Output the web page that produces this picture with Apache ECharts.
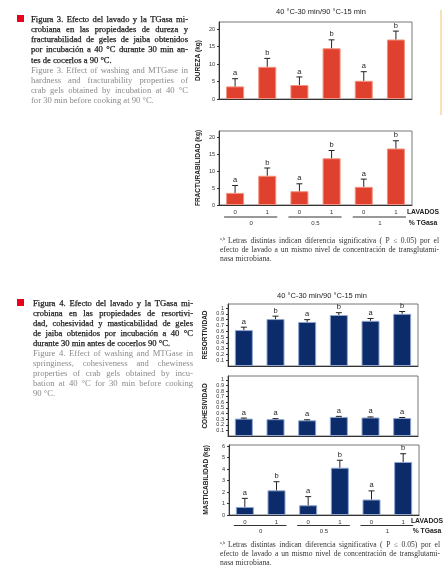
<!DOCTYPE html>
<html><head><meta charset="utf-8">
<script src="https://cdn.jsdelivr.net/npm/echarts@6/dist/echarts.min.js"></script>
<style>html,body{margin:0;padding:0;background:#fff}#c{width:443px;height:578px}</style>
</head><body><div id="c"></div>
<script>
// ---------- DATA ----------
const categories = ['L0-T0','L1-T0','L0-T0.5','L1-T0.5','L0-T1','L1-T1'];
const lavados = ['0','1','0','1','0','1'];
const tgasa = ['0','0.5','1'];
const chartTitle = '40 °C-30 min/90 °C-15 min';

const durezaMean = [3.6, 9.2, 4.0, 14.5, 5.2, 17.0];
const durezaErr = [2.2, 2.4, 2.3, 2.4, 2.6, 2.4];
const durezaLetters = ['a','b','a','b','a','b'];

const fractMean = [3.6, 8.7, 4.1, 13.9, 5.4, 16.8];
const fractErr = [2.2, 2.3, 2.2, 2.3, 2.3, 2.3];
const fractLetters = ['a','b','a','b','a','b'];

const resortMean = [0.62, 0.81, 0.76, 0.88, 0.78, 0.90];
const resortErr = [0.05, 0.05, 0.04, 0.04, 0.04, 0.04];
const resortLetters = ['a','b','a','b','a','b'];

const cohesMean = [0.31, 0.30, 0.28, 0.34, 0.33, 0.32];
const cohesErr = [0.01, 0.01, 0.01, 0.01, 0.01, 0.01];
const cohesLetters = ['a','a','a','a','a','a'];

const mastMean = [0.70, 2.15, 0.85, 4.12, 1.35, 4.62];
const mastErr = [0.75, 0.75, 0.75, 0.65, 0.75, 0.72];
const mastLetters = ['a','b','a','b','a','b'];

const fig3Es = ['Figura 3. Efecto del lavado y la TGasa mi-','crobiana en las propiedades de dureza y','fracturabilidad de geles de jaiba obtenidos','por incubación a 40 °C durante 30 min an-','tes de cocerlos a 90 °C.'];
const fig3En = ['Figure 3. Effect of washing and MTGase in','hardness and fracturability properties of','crab gels obtained by incubation at 40 °C','for 30 min before cooking at 90 °C.'];
const fig4Es = ['Figura 4. Efecto del lavado y la TGasa mi-','crobiana en las propiedades de resortivi-','dad, cohesividad y masticabilidad de geles','de jaiba obtenidos por incubación a 40 °C','durante 30 min antes de cocerlos 90 °C.'];
const fig4En = ['Figure 4. Effect of washing and MTGase in','springiness, cohesiveness and chewiness','properties of crab gels obtained by incu-','bation at 40 °C for 30 min before cooking','90 °C.'];
const footnote = ['Letras distintas indican diferencia significativa ( P ≤ 0.05) por el','efecto de lavado a un mismo nivel de concentración de transglutami-','nasa microbiana.'];

// ---------- CHART ----------
const chart = echarts.init(document.getElementById('c'), null, {renderer:'canvas'});
const SANS = '"Liberation Sans", Arial, sans-serif';
const SERIF = '"Liberation Serif", "DejaVu Serif", serif';

const panels = [
  {mean:durezaMean, err:durezaErr, letters:durezaLetters, name:'DUREZA (kg)', max:22, interval:5, grid:{left:219,top:22,width:193,height:77}, color:'#e0412f', border:'#f3917f', showX:false, gap:17},
  {mean:fractMean, err:fractErr, letters:fractLetters, name:'FRACTURABILIDAD (kg)', max:22, interval:5, grid:{left:219,top:131,width:193,height:74}, color:'#e0412f', border:'#f3917f', showX:true, gap:17},
  {mean:resortMean, err:resortErr, letters:resortLetters, name:'RESORTIVIDAD', max:1.07, interval:0.1, grid:{left:228,top:304,width:190,height:62}, color:'#0b2b6b', border:'#8ea5cf', showX:false, gap:19},
  {mean:cohesMean, err:cohesErr, letters:cohesLetters, name:'COHESIVIDAD', max:1.07, interval:0.1, grid:{left:228,top:376,width:190,height:60}, color:'#0b2b6b', border:'#8ea5cf', showX:false, gap:19},
  {mean:mastMean, err:mastErr, letters:mastLetters, name:'MASTICABILIDAD (kg)', max:6.1, interval:1, grid:{left:229,top:445,width:190,height:70}, color:'#0b2b6b', border:'#8ea5cf', showX:true, gap:19}
];

const option = {
  backgroundColor:'#fff',
  animation:false,
  grid: panels.map(p => Object.assign({show:true, borderColor:'#777', borderWidth:1, backgroundColor:'transparent'}, p.grid)),
  xAxis: panels.map((p,i) => ({
    type:'category', gridIndex:i, data:categories,
    axisLine:{show:true, lineStyle:{color:'#333', width:1}},
    axisTick:{show:false},
    axisLabel:{show:p.showX, formatter:(v,idx)=>lavados[idx], fontSize:6, color:'#333', fontFamily:SANS, margin:4}
  })),
  yAxis: panels.map((p,i) => ({
    type:'value', gridIndex:i, min:0, max:p.max, interval:p.interval,
    name:p.name, nameLocation:'middle', nameGap:p.gap, nameRotate:90,
    nameTextStyle:{fontSize:6.5, fontWeight:'bold', color:'#222', fontFamily:SANS},
    axisLine:{show:true, lineStyle:{color:'#333', width:1}},
    axisTick:{show:true, length:2, lineStyle:{color:'#333'}},
    splitLine:{show:false},
    axisLabel:{fontSize:5.5, color:'#333', fontFamily:SANS, margin:4, showMaxLabel:false,
      formatter:v => String(Math.round(v*10)/10)}
  })),
  series: []
};

panels.forEach((p,i) => {
  option.series.push({
    type:'bar', xAxisIndex:i, yAxisIndex:i, data:p.mean, barWidth:18,
    itemStyle:{color:p.color, borderColor:p.border, borderWidth:1}
  });
  option.series.push({
    type:'custom', xAxisIndex:i, yAxisIndex:i, clip:false, z:5,
    data:p.mean.map((m,k)=>[k, m, p.err[k]]),
    renderItem:(params, api) => {
      const x = api.value(0), m = api.value(1), e = api.value(2);
      const b = api.coord([x, m]); const t = api.coord([x, m+e]);
      const hw = 3;
      return {type:'group', children:[
        {type:'line', shape:{x1:b[0], y1:b[1], x2:t[0], y2:t[1]}, style:{stroke:'#222', lineWidth:1}},
        {type:'line', shape:{x1:t[0]-hw, y1:t[1], x2:t[0]+hw, y2:t[1]}, style:{stroke:'#222', lineWidth:1}},
        {type:'text', style:{text:p.letters[params.dataIndex], x:t[0], y:t[1]-1.5, textAlign:'center', textVerticalAlign:'bottom', font:'7.5px '+SANS, fill:'#222'}}
      ]};
    }
  });
});

chart.setOption(option);

// ---------- TEXT / DECORATION ----------
const cv = document.createElement('canvas').getContext('2d');
function measure(t, font){ cv.font = font; return cv.measureText(t).width; }
// font size that lets every justified line fit with at least a small word gap
function fitSize(lines, weight, family, size, width, lastLeft){
  let s = size;
  lines.forEach((ln, li) => {
    if (lastLeft && li === lines.length-1) return;
    const words = ln.split(' ');
    const f = weight + ' ' + s + 'px ' + family;
    const sum = words.reduce((a,w)=>a+measure(w,f),0);
    const need = sum + (words.length-1) * s * 0.2;
    if (need > width) s = s * width / need;
  });
  return weight + ' ' + s.toFixed(2) + 'px ' + family;
}
function justifyBlock(lines, x0, y0, width, lh, font, color, lastLeft, extra){
  const out = [];
  const base = Object.assign({font:font, fill:color, textVerticalAlign:'middle'}, extra||{});
  lines.forEach((ln, li) => {
    const y = y0 + li*lh;
    const isLast = li === lines.length-1;
    if (isLast && lastLeft) {
      out.push({type:'text', style:Object.assign({text:ln, x:x0, y:y}, base)});
      return;
    }
    const words = ln.split(' ');
    const ws = words.map(w => measure(w, font));
    const sum = ws.reduce((a,b)=>a+b,0);
    const gap = words.length>1 ? (width - sum)/(words.length-1) : 0;
    let x = x0;
    words.forEach((w,k) => {
      out.push({type:'text', style:Object.assign({text:w, x:x, y:y}, base)});
      x += ws[k] + gap;
    });
  });
  return out;
}

const g = [];
const boldish = {stroke:'#1a1a1a', lineWidth:0.25};
// Figure 3 caption
g.push({type:'rect', shape:{x:17, y:15, width:7, height:7}, style:{fill:'#e8001c'}});
g.push(...justifyBlock(fig3Es, 31, 19.5, 157, 10.2, fitSize(fig3Es,'normal',SERIF,8.6,157,true), '#1a1a1a', true, boldish));
g.push(...justifyBlock(fig3En, 31, 70.8, 157, 10, fitSize(fig3En,'normal',SERIF,8.6,157,true), '#8a8a8a', true));
// Figure 4 caption
g.push({type:'rect', shape:{x:17, y:299, width:7, height:7}, style:{fill:'#e8001c'}});
g.push(...justifyBlock(fig4Es, 33, 304, 160, 9.9, fitSize(fig4Es,'normal',SERIF,8.6,160,true), '#1a1a1a', true, boldish));
g.push(...justifyBlock(fig4En, 33, 354, 160, 10, fitSize(fig4En,'normal',SERIF,8.6,160,true), '#8a8a8a', true));

// Titles
g.push({type:'text', style:{text:chartTitle, x:321, y:12, textAlign:'center', textVerticalAlign:'middle', font:'7.5px '+SANS, fill:'#222'}});
g.push({type:'text', style:{text:chartTitle, x:322, y:296, textAlign:'center', textVerticalAlign:'middle', font:'7.5px '+SANS, fill:'#222'}});

// orange side rule
g.push({type:'line', shape:{x1:441, y1:10, x2:441, y2:115}, style:{stroke:'#f3c46a', lineWidth:1}});

// group underlines + TGasa labels (from axis scale)
function groupLabels(xi, lineY, labY, lavY, lavX){
  for (let k=0;k<3;k++){
    const a = chart.convertToPixel({xAxisIndex:xi}, 2*k);
    const b = chart.convertToPixel({xAxisIndex:xi}, 2*k+1);
    g.push({type:'line', shape:{x1:a-11, y1:lineY, x2:b+10, y2:lineY}, style:{stroke:'#333', lineWidth:1}});
    g.push({type:'text', style:{text:tgasa[k], x:(a+b)/2, y:labY, textAlign:'center', textVerticalAlign:'middle', font:'6px '+SANS, fill:'#333'}});
  }
  g.push({type:'text', style:{text:'LAVADOS', x:lavX, y:lavY, textAlign:'center', textVerticalAlign:'middle', font:'bold 6.8px '+SANS, fill:'#222'}});
  g.push({type:'text', style:{text:'% TGasa', x:lavX, y:labY, textAlign:'center', textVerticalAlign:'middle', font:'bold 6.8px '+SANS, fill:'#222'}});
}
groupLabels(1, 217, 223, 212.5, 423);
groupLabels(4, 525.5, 531, 521, 427);

// Footnotes
function footnoteBlock(x0, y0, width){
  const fnFont = fitSize(footnote, 'normal', SERIF, 7.6, width-8, true);
  g.push({type:'text', style:{text:'a,b', x:x0, y:y0-2, font:'4.5px '+SERIF, fill:'#444', textVerticalAlign:'middle'}});
  const first = justifyBlock([footnote[0]], x0+8, y0, width-8, 9, fnFont, '#333', false);
  const rest = justifyBlock(footnote.slice(1), x0, y0+9, width, 9, fnFont, '#333', true);
  g.push(...first, ...rest);
}
footnoteBlock(220, 241, 219);
footnoteBlock(220, 545, 220);

chart.setOption({graphic:{elements:g}});
</script>
</body></html>
